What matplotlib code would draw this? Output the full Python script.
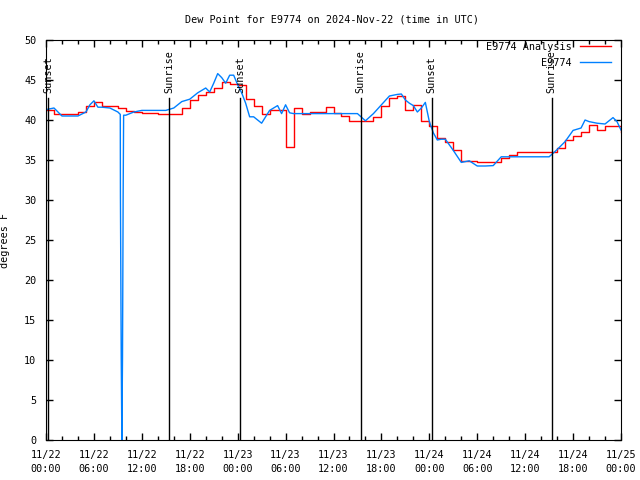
import matplotlib
matplotlib.use("Agg")
import matplotlib.pyplot as plt
import numpy as np

# hours since 2024-11-22 00:00 UTC
red_hours = list(range(73))
red_vals = [41.2, 40.8, 40.7, 40.7, 41.0, 41.8, 42.2, 41.8, 41.7, 41.5,
            41.1, 41.0, 40.9, 40.9, 40.7, 40.7, 40.8, 41.5, 42.5, 43.1,
            43.5, 44.0, 44.8, 44.5, 44.4, 42.6, 41.7, 40.8, 41.2, 41.2,
            36.6, 41.5, 40.8, 41.0, 41.0, 41.6, 40.9, 40.5, 39.9, 39.9,
            39.9, 40.4, 41.7, 42.7, 43.0, 41.3, 41.9, 39.9, 39.2, 37.7,
            37.3, 36.2, 34.9, 34.9, 34.8, 34.8, 34.8, 35.3, 35.6, 36.0,
            36.0, 36.0, 36.0, 36.0, 36.5, 37.5, 38.0, 38.5, 39.4, 38.8,
            39.2, 39.2, 38.5]

blue_hours = [0, 1, 2, 3, 4, 5, 5.5, 6, 6.5, 7, 8, 9, 9.3, 9.32, 9.42, 9.5,
              9.58, 9.66, 9.72, 10, 11, 12, 13, 14, 15, 16, 17, 18, 19, 20,
              20.5, 21, 21.5, 22, 22.5, 23, 23.5, 24, 24.5, 25, 25.5, 26, 27,
              28, 29, 29.5, 30, 30.5, 31, 32, 33, 34, 35, 36, 37, 38, 39, 40,
              41, 42, 43, 44, 44.5, 45, 45.5, 46, 46.5, 47, 47.5, 48, 48.5,
              49, 49.5, 50, 51, 52, 53, 54, 55, 56, 57, 58, 59, 60, 61, 62,
              63, 64, 65, 66, 67, 67.5, 68, 69, 70, 71, 71.5, 72]
blue_vals = [41.3, 41.5, 40.5, 40.5, 40.5, 41.0, 41.9, 42.4, 41.6, 41.6,
             41.5, 41.0, 40.7, 30.5, 10.3, 0.0, 10.3, 30.5, 40.6, 40.6,
             41.0, 41.2, 41.2, 41.2, 41.2, 41.5, 42.3, 42.6, 43.4, 44.0,
             43.5, 44.6, 45.8, 45.3, 44.6, 45.6, 45.6, 44.4, 43.4, 42.1,
             40.4, 40.4, 39.6, 41.2, 41.8, 40.8, 41.9, 40.9, 40.8, 40.8,
             40.8, 40.8, 40.8, 40.8, 40.8, 40.8, 40.8, 39.9, 40.8, 41.9,
             43.0, 43.2, 43.25, 42.5, 42.1, 41.8, 41.0, 41.5, 42.2, 39.8,
             38.4, 37.5, 37.6, 37.6, 36.2, 34.7, 34.9, 34.25, 34.25, 34.3,
             35.4, 35.4, 35.4, 35.4, 35.4, 35.4, 35.4, 36.3, 37.3, 38.7,
             39.0, 40.0, 39.8, 39.6, 39.5, 40.3, 39.8, 38.75]

sun_hours = [0.25, 15.4, 24.3, 39.4, 48.3, 63.3]
sun_names = ["Sunset", "Sunrise", "Sunset", "Sunrise", "Sunset", "Sunrise"]

tick_labels = ["11/22\n00:00", "11/22\n06:00", "11/22\n12:00", "11/22\n18:00",
               "11/23\n00:00", "11/23\n06:00", "11/23\n12:00", "11/23\n18:00",
               "11/24\n00:00", "11/24\n06:00", "11/24\n12:00", "11/24\n18:00",
               "11/25\n00:00"]

plt.rcParams['font.family'] = ['DejaVu Sans Mono']
plt.rcParams['font.size'] = 7.3

fig = plt.figure(figsize=(6.4, 4.8), dpi=100)
ax = fig.add_axes([46 / 640, 40 / 480, 575 / 640, 400 / 480])

ax.plot(red_hours, red_vals, color='#ff0000', lw=1, drawstyle='steps-post',
        label='E9774 Analysis')
ax.plot(blue_hours, blue_vals, color='#0080ff', lw=1, label='E9774')

for h, name in zip(sun_hours, sun_names):
    ax.axvline(h, ymin=0, ymax=0.855, color='black', lw=1)
    ax.text(h, 43.4, name, rotation=90, ha='center', va='bottom')

ax.set_xlim(0, 72)
ax.set_ylim(0, 50)
ax.set_xticks(np.arange(0, 73, 6))
ax.set_xticklabels(tick_labels, linespacing=1.5)
ax.set_xticks(np.arange(0, 73, 2), minor=True)
ax.set_yticks(np.arange(0, 51, 5))
ax.tick_params(direction='in', top=True, right=True, length=5, width=1,
               which='major', pad=7)
ax.tick_params(direction='in', top=True, right=True, length=3, width=1,
               which='minor')
ax.set_ylabel('degrees F', labelpad=10)
fig.text(332 / 640, 1 - 20 / 480, 'Dew Point for E9774 on 2024-Nov-22 (time in UTC)',
         ha='center', va='center')

ax.legend(loc='upper right', bbox_to_anchor=(0.982, 0.995), frameon=False,
          markerfirst=False, handlelength=3.0, borderaxespad=0, borderpad=0,
          labelspacing=0.55, handletextpad=0.8)

fig.savefig('out.png', dpi=100)
